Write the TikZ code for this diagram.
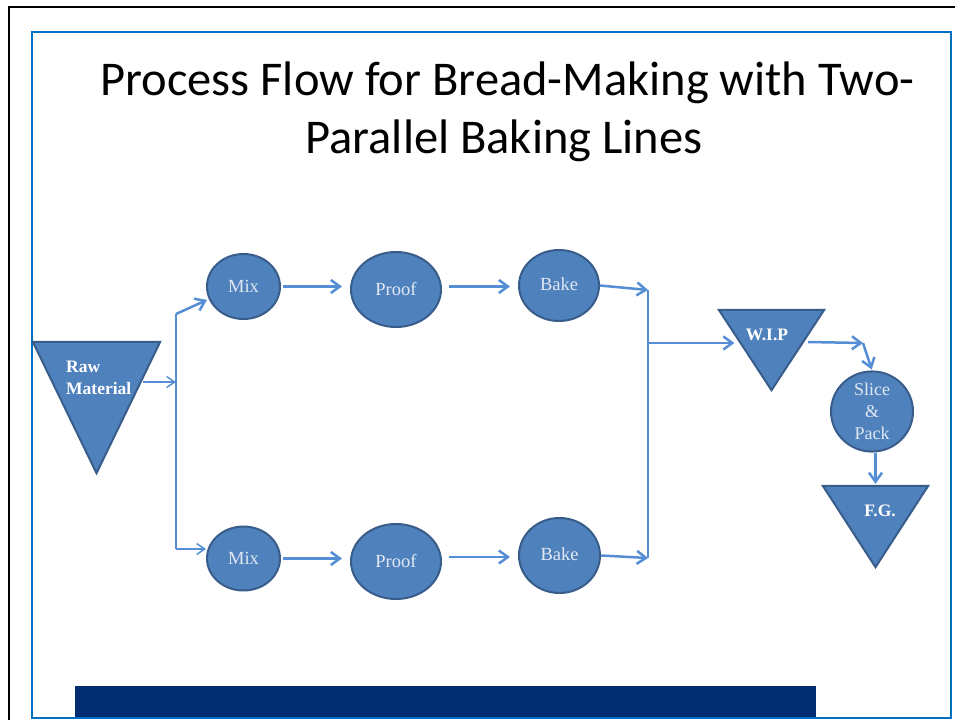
\documentclass[tikz,border=0pt]{standalone}
\usepackage{fontspec}
\setmainfont{Liberation Serif}
\newfontfamily\titlefont{Carlito}
\usetikzlibrary{shapes.geometric,arrows.meta}

\definecolor{boxfill}{RGB}{79,129,189}
\definecolor{boxedge}{RGB}{56,93,138}
\definecolor{flow}{RGB}{85,142,213}
\definecolor{frameblue}{RGB}{0,112,192}
\definecolor{navybar}{RGB}{3,45,114}
\definecolor{softwhite}{RGB}{225,232,242}

\tikzset{
  proc/.style={ellipse, draw=boxedge, fill=boxfill, line width=2, inner sep=0,
    text=softwhite, font=\fontsize{18.5}{22}\selectfont},
  tribox/.style={rectangle, inner sep=0, draw=none},
  tri/.style={draw=boxedge, fill=boxfill, line width=2, line join=miter},
  trilabel/.style={text=white, font=\bfseries\fontsize{17.5}{22}\selectfont, inner sep=0},
  flowline/.style={draw=flow, line width=2.5},
  flowarrow/.style={flowline, -{Straight Barb[length=9,width=13]}},
  thinarrow/.style={draw=flow, line width=1.5, -{Straight Barb[length=8,width=11]}},
  titletext/.style={anchor=base, inner sep=0, font=\titlefont\fontsize{48.5}{58}\selectfont}
}

\begin{document}
\begin{tikzpicture}[x=1pt,y=-1pt]
  \useasboundingbox (0,0) rectangle (955,720);
  \fill[white] (0,0) rectangle (955,720);

  % page frame
  \draw[black, line width=2] (9,720) -- (9,7) -- (955,7);
  \fill[navybar] (75,686) rectangle (816,718);
  \draw[frameblue, line width=2.5] (32,32) rectangle (951,718);

  % title
  \node[titletext] (title1) at (507.5,95) {Process Flow for Bread-Making with Two-};
  \node[titletext] (title2) at (504,153) {Parallel Baking Lines};

  % raw material
  \node[tribox, minimum width=127, minimum height=131] (raw) at (96.5,407.5) {};
  \draw[tri] (raw.north west) -- (raw.north east) -- (raw.south) -- cycle;
  \node[trilabel, align=left, anchor=north west] (rawlabel) at (66,361) {Raw\\Material};

  % process steps
  \node[proc, minimum width=73, minimum height=65] (mix1) at (243.5,286.5) {Mix};
  \node[proc, minimum width=90, minimum height=75] (proof1) at (396,289.5) {Proof};
  \node[proc, minimum width=80, minimum height=71] (bake1) at (559,285.5) {\raisebox{2pt}{Bake}};
  \node[proc, minimum width=73, minimum height=64] (mix2) at (243.5,558.5) {Mix};
  \node[proc, minimum width=90, minimum height=75] (proof2) at (396,561.5) {Proof};
  \node[proc, minimum width=81, minimum height=75] (bake2) at (559.5,555.5) {\raisebox{2pt}{Bake}};

  % work in progress
  \node[tribox, minimum width=105, minimum height=80] (wip) at (771.5,350) {};
  \draw[tri] (wip.north west) -- (wip.north east) -- (wip.south) -- cycle;
  \node[trilabel] (wiplabel) at (767,335) {W.I.P};

  \node[proc, minimum width=82, minimum height=73, align=center,
        font=\fontsize{18}{22}\selectfont] (slice) at (872,411.5) {Slice\\\&\\Pack};

  % finished goods
  \node[tribox, minimum width=105, minimum height=81] (fg) at (875.5,526.5) {};
  \draw[tri] (fg.north west) -- (fg.north east) -- (fg.south) -- cycle;
  \node[trilabel] (fglabel) at (880,511) {F.G.};

  % junction points
  \coordinate (rawout) at (143,382);
  \coordinate (split) at (176,382);
  \coordinate (splittop) at (176,314);
  \coordinate (splitbot) at (176,549);
  \coordinate (mergetop) at (648,290);
  \coordinate (mergebot) at (648,558);
  \coordinate (mergeout) at (648,343);
  \coordinate (wipout) at (808,342);
  \coordinate (bend) at (863,343);

  % split into two lines
  \draw[thinarrow] (rawout) -- (split);
  \draw[flowline] (splittop) -- (splitbot);
  \draw[flowarrow, shorten >=2] (splittop) -- (mix1.200);
  \draw[thinarrow] (splitbot) -- (splitbot -| mix2.west);

  % upper line
  \draw[flowarrow, shorten <=2, shorten >=8] (mix1.east) -- (mix1.east -| proof1.west);
  \draw[flowarrow, shorten <=7, shorten >=8] (proof1.east |- mix1.east) -- (mix1.east -| bake1.west);
  \draw[flowarrow] (bake1.east) -- (mergetop);

  % lower line
  \draw[flowarrow, shorten <=2, shorten >=8] (mix2.east) -- (mix2.east -| proof2.west);
  \draw[flowarrow, shorten <=7, shorten >=8] (proof2.east |- bake2.west) ++(0,1.5) -- ([yshift=-1.5]bake2.west);
  \draw[flowarrow] (bake2.east) -- (mergebot);

  % merge and finish
  \draw[flowline] (mergetop) -- (mergebot);
  \draw[flowarrow, shorten >=37] (mergeout) -- (mergeout -| wip.center);
  \draw[flowarrow] (wipout) -- (bend);
  \draw[flowarrow, shorten >=1] (bend) -- (slice.north);
  \draw[flowarrow, shorten >=2] (slice.south -| fg.north) -- (fg.north);
\end{tikzpicture}
\end{document}
